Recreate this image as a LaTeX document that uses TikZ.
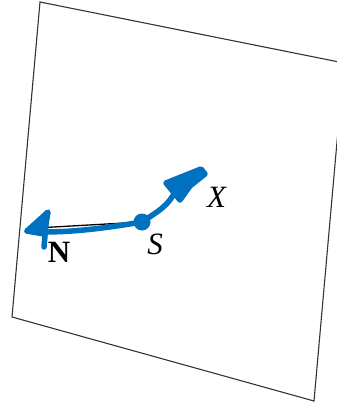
\documentclass[tikz,border=0pt]{standalone}
\usepackage{fontspec}
\setmainfont{Liberation Serif}
\definecolor{pen}{RGB}{0,112,192}
\begin{document}
\begin{tikzpicture}[x=1pt,y=-1pt,
  frame/.style={draw=black!80,line width=1.1pt},
  ink/.style={draw=pen,line width=5.5pt,line cap=round,line join=round},
  blob/.style={ink,fill=pen},
  lbl/.style={font=\fontsize{31}{33}\selectfont,inner sep=0pt,anchor=base}]
\useasboundingbox (0,0) rectangle (337,404);
\begin{scope}
\clip (0,0) rectangle (337,404);
\draw[frame] (40,2) -- (344,63) -- (314,401) -- (12,317) -- cycle;
\end{scope}
\coordinate (S) at (142,222);
\coordinate (Nt) at (27,231);
\coordinate (Xt) at (201,169);
% underlying thin black line
\draw[line width=1.3pt,black] (36,228) -- (S);
% blue strokes
\draw[ink] (Nt) .. controls (60,234) and (100,229) .. (S);
\draw[blob] (48,212) -- (Nt) -- (44,234) -- cycle;
\draw[ink] (47,213) -- (44,247);
\fill[pen] (S) circle (8.5pt);
\draw[ink] (S) .. controls (160,210) and (168,206) .. (176,190);
\draw[blob] (166,183) -- (Xt) -- (205,174) -- (190,186) -- (180,200) -- cycle;
% labels
\node[lbl] (N) at (59,262) {\textbf{N}};
\node[lbl] (Sl) at (155,254) {\textit{S}};
\node[lbl] (X) at (217,207) {\textit{X}};
\end{tikzpicture}
\end{document}
